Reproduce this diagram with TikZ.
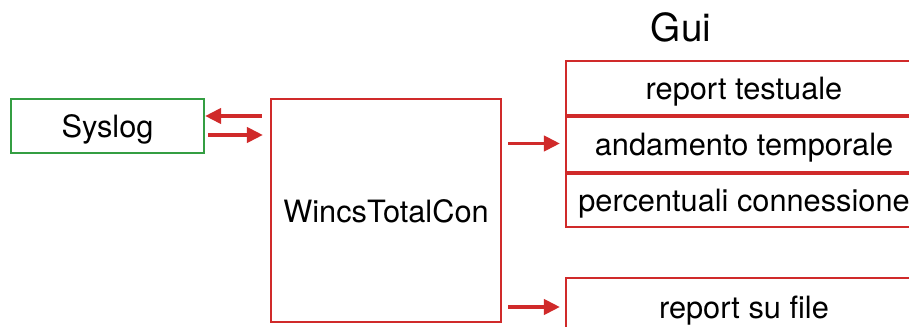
\documentclass[tikz,border=0pt]{standalone}
\usepackage{fontspec}
\setmainfont{TeX Gyre Heros}
\usetikzlibrary{arrows.meta}

\definecolor{wred}{RGB}{208,42,42}
\definecolor{wgreen}{RGB}{52,158,66}

\begin{document}
\begin{tikzpicture}[
    x=0.02cm, y=-0.02cm,
    box/.style={
        rectangle,
        draw=wred,
        line width=1.2pt,
        inner sep=0pt,
        text height=17pt,
        text depth=3.5pt,
        align=center,
        font=\fontsize{17.5}{20}\selectfont
    },
    guibox/.style={
        box,
        minimum width=7.12cm,
        minimum height=1.1cm
    },
    sep/.style={wred, line width=2.4pt},
    arrow/.style={-{Triangle[length=0.32cm,width=0.3cm]}, wred, line width=2.2pt}
]
\useasboundingbox (0,0) rectangle (909,327);
\clip (0,0) rectangle (909,327);

\node[box, draw=wgreen, minimum width=3.86cm, minimum height=1.08cm] (syslog) at (107.5,126) {Syslog};
\node[box, minimum width=4.6cm, minimum height=4.46cm] (wincs) at (386,210.5) {WincsTotalCon};

\node[font=\fontsize{22}{26}\selectfont] (gui) at (681,27) {Gui};

\node[guibox, minimum height=1.08cm] (testo) at (744,88) {report testuale};
\node[guibox, minimum height=1.14cm] (andamento) at (744,143.5) {andamento temporale};
\node[guibox, minimum height=1.1cm] (perc) at (744,199.5) {percentuali connessione};
\node[guibox, minimum height=1.16cm] (file) at (744,307) {report su file};

\draw[sep] (testo.south west) -- (testo.south east);
\draw[sep] (andamento.south west) -- (andamento.south east);

\draw[arrow, shorten <=0.16cm] ([yshift=0.2cm]wincs.west |- syslog.east) -- ([yshift=0.2cm]syslog.east);
\draw[arrow, shorten <=0.06cm, shorten >=0.14cm] ([yshift=-0.18cm]syslog.east) -- ([yshift=-0.18cm]wincs.west |- syslog.east);
\draw[arrow, shorten <=0.12cm, shorten >=0.1cm] (wincs.east |- andamento.west) -- (andamento.west);
\draw[arrow, shorten <=0.12cm, shorten >=0.1cm] (wincs.east |- file.west) -- (file.west);

\end{tikzpicture}
\end{document}
